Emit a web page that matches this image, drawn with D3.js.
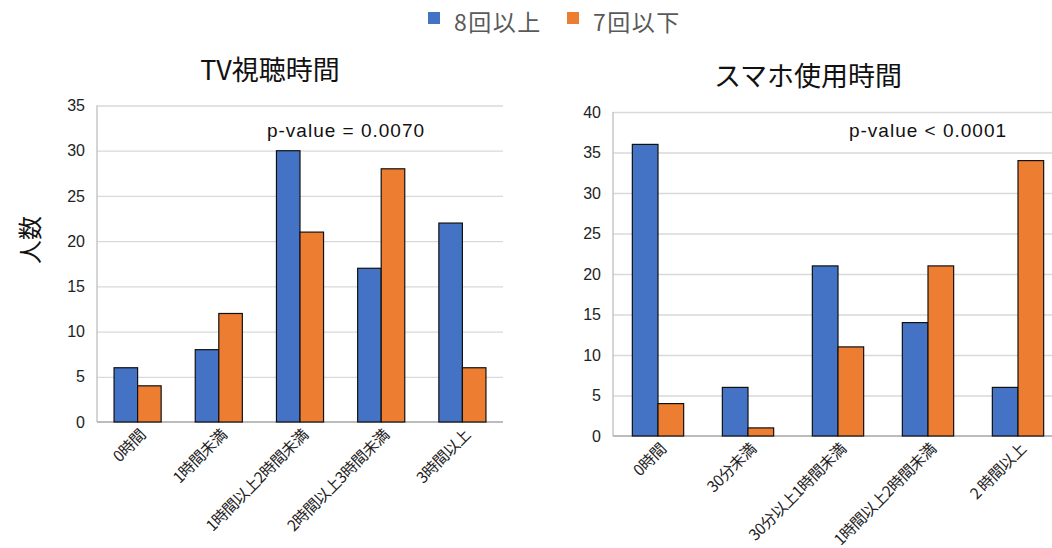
<!DOCTYPE html>
<meta charset="utf-8">
<style>
body { margin: 0; background: #fff; }
svg { font-family: "Liberation Sans", Arial, "Noto Sans CJK JP", sans-serif; }
.grid line { stroke: #d9d9d9; stroke-width: 1.3px; }
.grid .domain { display: none; }
.ytick text { font-size: 16px; fill: #222; }
.xlab { font-size: 15.5px; fill: #222; font-family: "Noto Sans CJK JP", sans-serif; letter-spacing: -0.5px; }
.bar { stroke: #111; stroke-width: 1.2px; }
</style>
<svg width="1052" height="548"></svg>
<script src="https://d3js.org/d3.v7.min.js"></script>
<script>

var seriesNames = ["8回以上", "7回以下"];
var colours = ["#4472C4", "#ED7D31"];

var tvCategories = ["0時間", "1時間未満", "1時間以上2時間未満", "2時間以上3時間未満", "3時間以上"];
var tvMore = [6, 8, 30, 17, 22];
var tvLess = [4, 12, 21, 28, 6];

var phoneCategories = ["0時間", "30分未満", "30分以上1時間未満", "1時間以上2時間未満", "2 時間以上"];
var phoneMore = [36, 6, 21, 14, 6];
var phoneLess = [4, 1, 11, 21, 34];

var svg = d3.select("svg");

// legend
var legend = svg.append("g");
seriesNames.forEach(function(name, i) {
  var lx = 428 + i * 139;
  legend.append("rect").attr("x", lx).attr("y", 12).attr("width", 12).attr("height", 12)
    .attr("fill", colours[i]);
  legend.append("text").attr("x", lx + 26).attr("y", 31)
    .style("font-size", "23px").style("fill", "#595959")
    .style("letter-spacing", "1.5px")
    .style("font-family", "'Noto Sans CJK JP', sans-serif")
    .text(name);
});

// y axis label
svg.append("text")
  .attr("transform", "translate(39,240) rotate(-90)")
  .attr("text-anchor", "middle")
  .style("font-size", "24px").style("fill", "#111")
  .style("font-family", "'Noto Sans CJK JP', sans-serif")
  .text("人数");

function drawPanel(p) {
  var x = d3.scaleBand().domain(p.categories).range([p.left, p.right]);
  var y = d3.scaleLinear().domain([0, p.max]).range([p.bottom, p.top]);
  var g = svg.append("g");

  g.append("g").attr("class", "grid")
    .attr("transform", "translate(" + p.left + ",0)")
    .call(d3.axisLeft(y).ticks(p.max / 5).tickSize(-(p.right - p.left)).tickFormat(""))
    .call(function(s) { s.selectAll("line").filter(function(d) { return d === 0; }).remove(); });

  g.append("g").attr("class", "ytick")
    .attr("transform", "translate(" + p.left + ",0)")
    .call(d3.axisLeft(y).ticks(p.max / 5).tickSize(0).tickPadding(12))
    .call(function(s) { s.select(".domain").remove(); });

  // axis lines
  g.append("line").attr("x1", p.left).attr("x2", p.left).attr("y1", p.top).attr("y2", p.bottom)
    .attr("stroke", "#bfbfbf").attr("stroke-width", 1.3);
  g.append("line").attr("x1", p.left).attr("x2", p.right).attr("y1", p.bottom).attr("y2", p.bottom)
    .attr("stroke", "#a6a6a6").attr("stroke-width", 1.3);

  var inner = d3.scaleBand().domain([0, 1]).range([0, x.bandwidth() * p.barFrac * 2]);
  var rows = p.categories.map(function(c, i) { return { cat: c, vals: [p.more[i], p.less[i]] }; });

  rows.forEach(function(r) {
    var x0 = x(r.cat) + x.bandwidth() / 2 - inner.range()[1] / 2;
    g.selectAll(null).data(r.vals).enter().append("rect")
      .attr("class", "bar")
      .attr("x", function(d, i) { return x0 + inner(i); })
      .attr("width", inner.bandwidth())
      .attr("y", function(d) { return y(d); })
      .attr("height", function(d) { return p.bottom - y(d); })
      .attr("fill", function(d, i) { return colours[i]; });
  });

  g.selectAll(".xlab").data(p.categories).enter().append("text")
    .attr("class", "xlab")
    .attr("text-anchor", "end")
    .attr("transform", function(d) {
      return "translate(" + (x(d) + x.bandwidth() / 2 + 9) + "," + (p.bottom + 14) + ") rotate(-45)";
    })
    .text(function(d) { return d; });

  g.append("text").attr("x", p.titleX).attr("y", p.titleY).attr("text-anchor", "middle")
    .style("font-size", "27px").style("fill", "#111")
    .style("font-family", "'Noto Sans CJK JP', sans-serif")
    .text(p.title);

  g.append("text").attr("x", p.pX).attr("y", 137).attr("text-anchor", "middle")
    .style("font-size", "19px").style("fill", "#111").style("letter-spacing", "1px")
    .text(p.pText);
}

drawPanel({
  categories: tvCategories, more: tvMore, less: tvLess, max: 35,
  left: 97, right: 503, top: 105.5, bottom: 422, barFrac: 0.29,
  title: "TV視聴時間", titleX: 270, titleY: 80,
  pText: "p-value = 0.0070", pX: 346
});

drawPanel({
  categories: phoneCategories, more: phoneMore, less: phoneLess, max: 40,
  left: 613, right: 1063, top: 112, bottom: 436, barFrac: 0.285,
  title: "スマホ使用時間", titleX: 808, titleY: 86,
  pText: "p-value < 0.0001", pX: 928
});

</script>
